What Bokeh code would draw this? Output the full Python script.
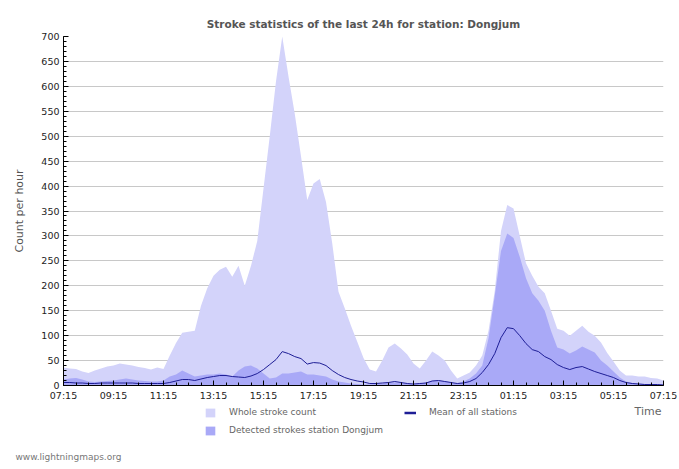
import numpy as np
from bokeh.plotting import figure
from bokeh.layouts import column
from bokeh.models import (Range1d, FixedTicker, Label, Legend, LegendItem,
                          ColumnDataSource)
from bokeh.embed import file_html
from bokeh.resources import INLINE

# ---- data (15-minute samples, starting 07:15) ----
step_hours = 0.25
whole_strokes = [36, 34, 33, 28, 25, 30, 34, 38, 40, 44, 42, 40, 37, 35, 32, 36, 33,
                 60, 85, 106, 108, 110, 160, 195, 220, 232, 238, 218, 240, 200, 240, 290,
                 395, 500, 610, 700, 620, 545, 460, 372, 405, 414, 368, 285, 188, 155, 120,
                 88, 55, 32, 28, 50, 76, 84, 74, 62, 44, 34, 50, 68, 60, 50, 30, 14, 20,
                 26, 40, 60, 110, 190, 310, 362, 355, 300, 245, 220, 198, 185, 150, 114,
                 110, 100, 110, 120, 108, 100, 86, 65, 48, 30, 20, 20, 18, 18, 15, 14, 10]
detected_strokes = [12, 14, 15, 12, 8, 7, 8, 9, 10, 12, 14, 12, 10, 9, 8, 8, 10,
                    18, 22, 30, 24, 18, 20, 22, 22, 24, 22, 18, 30, 38, 40, 34,
                    24, 14, 16, 24, 24, 26, 28, 22, 22, 20, 18, 12, 8, 6, 4,
                    3, 2, 2, 3, 4, 6, 6, 6, 4, 3, 4, 6, 10, 10, 9, 6, 4, 8,
                    14, 24, 40, 95, 180, 270, 305, 296, 258, 215, 185, 170, 150, 110, 76,
                    72, 64, 70, 78, 72, 66, 50, 40, 28, 16, 8, 5, 4, 3, 3, 2, 2]
mean_all = [6, 6, 5, 5, 4, 4, 5, 5, 5, 5, 5, 5, 4, 4, 4, 4, 4,
            6, 9, 12, 12, 10, 13, 16, 18, 20, 20, 18, 17, 16, 19, 24,
            32, 42, 52, 68, 64, 58, 54, 43, 46, 45, 40, 30, 22, 16, 12,
            9, 7, 4, 4, 5, 6, 8, 6, 4, 3, 4, 5, 9, 10, 8, 6, 4, 5,
            8, 14, 26, 42, 64, 96, 116, 114, 100, 84, 72, 68, 58, 52, 42,
            36, 32, 36, 38, 33, 28, 24, 20, 16, 10, 6, 4, 3, 2, 2, 2, 1]
tick_hours = [0, 2, 4, 6, 8, 10, 12, 14, 16, 18, 20, 22, 24]
tick_labels = ["07:15", "09:15", "11:15", "13:15", "15:15", "17:15", "19:15",
               "21:15", "23:15", "01:15", "03:15", "05:15", "07:15"]
title_text = "Stroke statistics of the last 24h for station: Dongjum"
station = "Dongjum"

hours = np.arange(len(whole_strokes)) * step_hours
src = ColumnDataSource(dict(h=hours, whole=whole_strokes,
                            det=detected_strokes, mean=mean_all))

FONT = "DejaVu Sans"
C_WHOLE = "#d3d3fa"
C_DET = "#a9a9f7"
C_MEAN = "#1e1e96"

# ---------------- main chart ----------------
p = figure(width=679, height=403, output_backend="svg", toolbar_location=None,
           x_range=Range1d(0, 24), y_range=Range1d(0, 700),
           min_border_left=63, min_border_right=16, min_border_top=36,
           min_border_bottom=16)
p.outline_line_color = None
p.background_fill_color = "white"
p.border_fill_color = "white"

p.title.text = title_text
p.title.align = "center"
p.title.text_font = FONT
p.title.text_font_size = "10.5px"
p.title.text_font_style = "bold"
p.title.text_color = "#555555"
p.title.standoff = 13

r_whole = p.varea(x="h", y1=0, y2="whole", source=src, fill_color=C_WHOLE)
r_det = p.varea(x="h", y1=0, y2="det", source=src, fill_color=C_DET)
r_mean = p.line(x="h", y="mean", source=src, line_color=C_MEAN, line_width=1)

p.xgrid.grid_line_color = None
p.ygrid.grid_line_color = "#c8c8c8"
p.ygrid.grid_line_width = 1

p.xaxis.ticker = FixedTicker(ticks=tick_hours,
                             minor_ticks=list(np.arange(0, 24.01, 0.5)))
p.xaxis.major_label_overrides = {h: l for h, l in zip(tick_hours, tick_labels)}
p.yaxis.ticker = FixedTicker(ticks=list(range(0, 701, 50)),
                             minor_ticks=list(range(0, 701, 10)))
for ax in (p.xaxis[0], p.yaxis[0]):
    ax.axis_line_color = "black"
    ax.major_tick_line_color = "black"
    ax.minor_tick_line_color = "black"
    ax.major_tick_in = 5
    ax.major_tick_out = 0
    ax.minor_tick_in = 3
    ax.minor_tick_out = 0
    ax.major_label_text_font = FONT
    ax.major_label_text_font_size = "9.5px"
    ax.major_label_text_color = "#222222"
    ax.major_label_standoff = 4
p.yaxis.axis_label = "Count per hour"
p.yaxis.axis_label_text_font = FONT
p.yaxis.axis_label_text_font_size = "11px"
p.yaxis.axis_label_text_font_style = "normal"
p.yaxis.axis_label_text_color = "#555555"
p.yaxis.axis_label_standoff = 12

# ---------------- legend strip ----------------
q = figure(width=679, height=66, output_backend="svg", toolbar_location=None,
           x_range=Range1d(0, 1), y_range=Range1d(0, 1),
           x_axis_location=None, y_axis_location=None,
           min_border=0, min_border_left=0, min_border_right=0,
           min_border_top=0, min_border_bottom=0)
q.grid.visible = False
q.outline_line_color = None
q.background_fill_color = "white"
q.border_fill_color = "white"
for fig in (p, q):
    if "frame_align" in fig.properties():
        fig.frame_align = False

# legend swatch proxies (zero-size, only used for the legend swatches)
l_whole = q.varea(x=[0], y1=[0], y2=[0], fill_color=C_WHOLE)
l_det = q.varea(x=[0], y1=[0], y2=[0], fill_color=C_DET)
l_mean = q.line(x=[0], y=[0], line_color=C_MEAN, line_width=2.5)

legend = Legend(items=[
    LegendItem(label="Whole stroke count", renderers=[l_whole]),
    LegendItem(label="Mean of all stations", renderers=[l_mean]),
    LegendItem(label="Detected strokes station " + station, renderers=[l_det]),
], location=(204, 33), ncols=2, orientation="horizontal")
legend.border_line_color = None
legend.background_fill_alpha = 0
legend.padding = 0
legend.margin = 0
legend.spacing = 6
legend.glyph_width = 12
legend.glyph_height = 11
legend.label_standoff = 13
legend.label_width = 169
legend.label_height = 12
legend.label_text_font = FONT
legend.label_text_font_size = "9px"
legend.label_text_color = "#666666"
legend.label_text_baseline = "middle"
q.add_layout(legend, "center")

q.add_layout(Label(x=661, y=58.5, x_units="screen", y_units="screen",
                   text="Time", text_font=FONT, text_font_size="11px",
                   text_color="#666666", text_align="right",
                   text_baseline="middle"))
q.add_layout(Label(x=15, y=13, x_units="screen", y_units="screen",
                   text="www.lightningmaps.org", text_font=FONT,
                   text_font_size="9px", text_color="#777777",
                   text_align="left", text_baseline="middle"))

layout = column(p, q, spacing=0)
open("out.html", "w").write(file_html(layout, INLINE))
